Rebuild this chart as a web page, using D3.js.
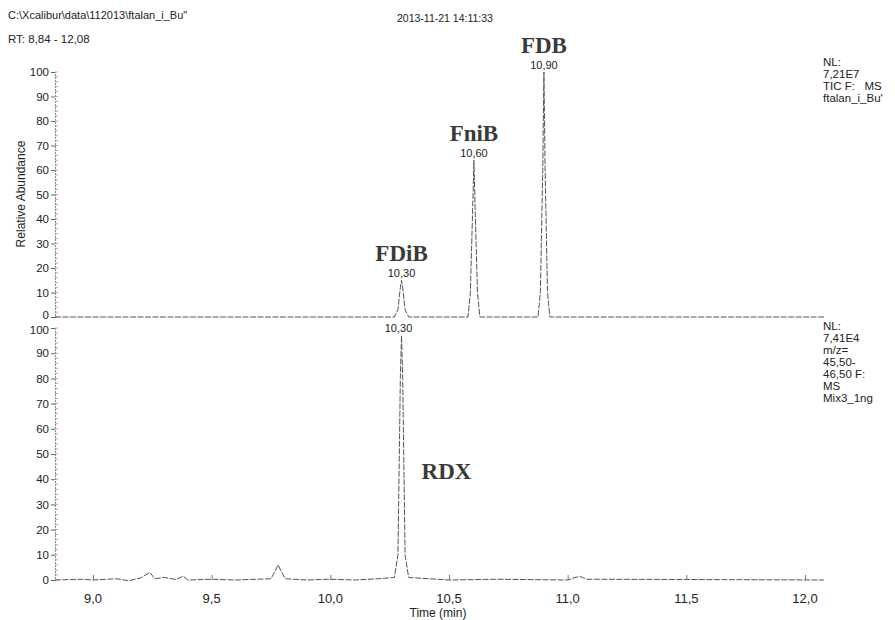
<!DOCTYPE html>
<html>
<head>
<meta charset="utf-8">
<script src="https://cdn.jsdelivr.net/npm/d3@7"></script>
<style>
  body { margin: 0; background: #fff; }
  text { font-family: "Liberation Sans", Arial, sans-serif; fill: #222; white-space: pre; }
  .name { font-family: "Liberation Serif", "Times New Roman", serif; font-weight: bold; fill: #3a3a3a; }
</style>
</head>
<body>
<div id="chart"></div>
<script>
// chromatogram data
let ticTimes  = [8.84, 10.27, 10.285, 10.295, 10.30, 10.305, 10.315, 10.33,
                 10.58, 10.59, 10.60, 10.605, 10.61, 10.62, 10.63,
                 10.875, 10.885, 10.895, 10.90, 10.905, 10.915, 10.925, 12.08];
let ticValues = [0, 0, 3, 12, 15, 12, 3, 0,
                 0, 10, 45, 64, 45, 10, 0,
                 0, 10, 60, 100, 60, 10, 0, 0];

let sicTimes  = [8.84, 8.95, 9.0, 9.1, 9.15, 9.2, 9.24, 9.26, 9.3, 9.35, 9.38, 9.4,
                 9.5, 9.6, 9.75, 9.77, 9.78, 9.79, 9.81, 9.9, 10.0, 10.1, 10.2,
                 10.27, 10.285, 10.295, 10.30, 10.305, 10.315, 10.33,
                 10.5, 10.7, 11.0, 11.05, 11.08, 11.5, 12.08];
let sicValues = [0, 0.3, 0, 0.5, -0.3, 0.8, 3, 0.5, 1, 0.2, 1.5, 0,
                 0.3, 0, 0.5, 4, 6, 4, 0.5, 0, 0.3, 0, 0.5,
                 1, 10, 80, 97, 80, 10, 1,
                 0, 0.3, 0, 1.5, 0.3, 0.2, 0];

let peakTimes  = [10.30, 10.605, 10.90];
let peakHeights = [15, 64, 100];
let peakLabels = ["10,30", "10,60", "10,90"];
let compoundNames = ["FDiB", "FniB", "FDB"];

let xTicks = [9.0, 9.5, 10.0, 10.5, 11.0, 11.5, 12.0];
let yTicks = [0, 10, 20, 30, 40, 50, 60, 70, 80, 90, 100];

let ticInfo = ["NL:", "7,21E7", "TIC F:   MS", "ftalan_i_Bu'"];
let sicInfo = ["NL:", "7,41E4", "m/z=", "45,50-", "46,50 F:", "MS", "Mix3_1ng"];

let width = 895, height = 620;

let svg = d3.select("#chart")
    .append("svg")
    .attr("width", width)
    .attr("height", height);

let x = d3.scaleLinear().domain([8.84, 12.08]).range([55, 824]);
let yTop = d3.scaleLinear().domain([0, 100]).range([317, 72]);
let yBot = d3.scaleLinear().domain([0, 100]).range([580, 328]);

let fmt = d => d3.format(".1f")(d).replace(".", ",");

// header
svg.append("text").attr("x", 8).attr("y", 19).style("font-size", "11px")
    .text("C:\\Xcalibur\\data\\112013\\ftalan_i_Bu\"");
svg.append("text").attr("x", 8).attr("y", 43).style("font-size", "11.5px")
    .text("RT: 8,84 - 12,08");
svg.append("text").attr("x", 445).attr("y", 22).attr("text-anchor", "middle")
    .style("font-size", "10.5px").text("2013-11-21 14:11:33");

// y axes for both panels
function drawY(scale, shift) {
    let g = svg.append("g").attr("transform", "translate(55,0)");
    g.call(d3.axisLeft(scale).tickValues(yTicks).tickSize(4).tickPadding(2).tickFormat(d3.format("d")));
    g.select(".domain").attr("stroke", "#888").attr("stroke-dasharray", "2,1");
    g.selectAll(".tick line").attr("stroke", "#666");
    g.selectAll(".tick text").style("font-size", "11.5px").attr("fill", "#222")
        .attr("dy", d => d == shift.v ? shift.dy : "0.32em");
    // minor ticks
    g.selectAll(".minor").data(d3.range(0, 101, 2)).enter()
        .append("line")
        .attr("x1", 0).attr("x2", 3)
        .attr("y1", d => scale(d)).attr("y2", d => scale(d))
        .attr("stroke", "#999").attr("stroke-width", 0.8);
}
// top 0 and bottom 100 sit close together, nudge them apart a little
drawY(yTop, {v: 0, dy: "0.15em"});
drawY(yBot, {v: 100, dy: "0.45em"});

// x axis ticks and labels
let xg = svg.append("g").attr("transform", "translate(0,580)");
xg.call(d3.axisTop(x).tickValues(xTicks).tickSize(5).tickFormat(""));
xg.select(".domain").remove();
xg.selectAll(".tick line").attr("stroke", "#777");
svg.selectAll(".xlab").data(xTicks).enter()
    .append("text")
    .attr("x", d => x(d))
    .attr("y", 603)
    .attr("text-anchor", "middle")
    .style("font-size", "13px")
    .text(fmt);

svg.append("text").attr("x", 438).attr("y", 617).attr("text-anchor", "middle")
    .style("font-size", "12px").text("Time (min)");

svg.append("text")
    .attr("transform", "translate(25,194) rotate(-90)")
    .attr("text-anchor", "middle")
    .style("font-size", "12px")
    .text("Relative Abundance");

// traces
let lineTop = d3.line().x((d, i) => x(ticTimes[i])).y(d => yTop(d));
let lineBot = d3.line().x((d, i) => x(sicTimes[i])).y(d => yBot(d));

svg.append("path").datum(ticValues)
    .attr("d", lineTop)
    .attr("fill", "none").attr("stroke", "#555").attr("stroke-width", 1)
    .attr("stroke-dasharray", "6,1.5");

svg.append("path").datum(sicValues)
    .attr("d", lineBot)
    .attr("fill", "none").attr("stroke", "#555").attr("stroke-width", 1)
    .attr("stroke-dasharray", "6,1.5");

// peak retention time labels
svg.selectAll(".rt").data(peakTimes).enter()
    .append("text")
    .attr("x", d => x(d))
    .attr("y", (d, i) => yTop(peakHeights[i]) - 3)
    .attr("text-anchor", "middle")
    .style("font-size", "11px")
    .text((d, i) => peakLabels[i]);

svg.selectAll(".name").data(peakTimes).enter()
    .append("text")
    .attr("class", "name")
    .attr("x", d => x(d))
    .attr("y", (d, i) => yTop(peakHeights[i]) - 19)
    .attr("text-anchor", "middle")
    .style("font-size", "23px")
    .text((d, i) => compoundNames[i]);

// peak labels of the lower panel
svg.append("text").attr("x", x(10.30) - 3).attr("y", 332)
    .attr("text-anchor", "middle").style("font-size", "11px").text("10,30");
svg.append("text").attr("class", "name")
    .attr("x", x(10.30) + 20).attr("y", yBot(40))
    .style("font-size", "23px").text("RDX");

// right side info
svg.selectAll(".ticinfo").data(ticInfo).enter()
    .append("text")
    .attr("x", 823)
    .attr("y", (d, i) => 66 + i * 12)
    .style("font-size", "11.5px")
    .text(d => d);

svg.selectAll(".sicinfo").data(sicInfo).enter()
    .append("text")
    .attr("x", 823)
    .attr("y", (d, i) => 330 + i * 12)
    .style("font-size", "11.5px")
    .text(d => d);
</script>
</body>
</html>
